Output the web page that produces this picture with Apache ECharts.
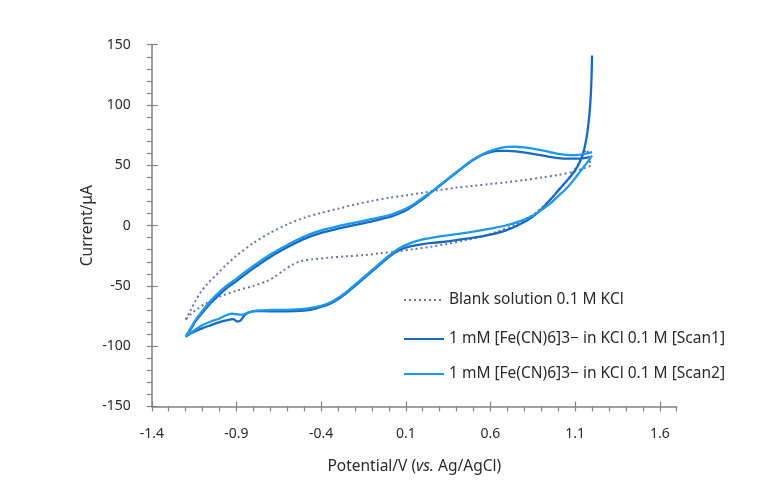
<!DOCTYPE html>
<html>
<head>
<meta charset="utf-8">
<script src="https://cdn.jsdelivr.net/npm/echarts@6/dist/echarts.min.js"></script>
<style>
  html, body { margin: 0; padding: 0; background: #fff; }
  #chart { width: 771px; height: 481px; }
</style>
</head>
<body>
<div id="chart"></div>
<script>
// Cyclic voltammograms: [potential (V vs Ag/AgCl), current (uA)]
const blankForward = [
  [-1.200,-78],[-1.170,-70],[-1.140,-62],[-1.110,-55],[-1.070,-48],[-1.020,-41],
  [-0.960,-32.5],[-0.900,-25],[-0.800,-14.5],[-0.700,-6],[-0.600,1],[-0.500,6.5],
  [-0.400,10.5],[-0.300,14],[-0.200,17.5],[-0.100,20.5],[0.000,23],[0.100,25],
  [0.200,27.3],[0.300,29.5],[0.400,31.5],[0.500,33],[0.600,34.5],[0.700,36],
  [0.800,37.8],[0.900,39.8],[1.000,42],[1.100,45],[1.150,47.5],[1.190,50]
];
const blankReverse = [
  [1.165,63],[1.140,57],[1.115,50],[1.090,44.5],[1.050,37],[1.000,29],[0.950,21],
  [0.900,14.5],[0.840,8],[0.740,0.5],[0.640,-5],[0.550,-9],[0.440,-12.5],[0.350,-15],
  [0.250,-17.5],[0.150,-19.5],[0.050,-21.5],[-0.050,-23],[-0.150,-24.5],[-0.250,-25.5],
  [-0.350,-26.5],[-0.450,-28],[-0.520,-29.5],[-0.570,-32.5],[-0.620,-37],[-0.670,-42],
  [-0.720,-46],[-0.800,-50],[-0.900,-54],[-1.000,-59],[-1.080,-64.5],[-1.130,-69],
  [-1.170,-73.5],[-1.200,-78]
];

const scan1Reverse = [
  [1.200,141],[1.198,128],[1.194,112],[1.188,98],[1.180,86],[1.170,75],[1.155,64],
  [1.135,55],[1.110,48],[1.080,42],[1.050,37],[1.000,29],[0.950,21],[0.900,13.5],
  [0.850,7.5],[0.800,3],[0.700,-3.5],[0.600,-7.5],[0.500,-10],[0.400,-12],[0.300,-13.8],
  [0.200,-15.3],[0.120,-17.5],[0.060,-20.5],[0.000,-26],[-0.050,-32],[-0.100,-38],
  [-0.150,-44],[-0.200,-50],[-0.250,-56],[-0.300,-61],[-0.350,-65],[-0.400,-67.5],
  [-0.450,-69.5],[-0.500,-70.5],[-0.600,-71],[-0.700,-71],[-0.780,-70.8],[-0.820,-71.8],
  [-0.850,-74],[-0.875,-78.5],[-0.895,-79.5],[-0.920,-77.5],[-0.960,-78.5],[-1.000,-80],
  [-1.050,-82.5],[-1.100,-85],[-1.150,-88],[-1.200,-92]
];
const scan1Forward = [
  [-1.170,-86],[-1.140,-79],[-1.100,-72],[-1.050,-64],[-1.000,-57],[-0.950,-51],
  [-0.900,-46],[-0.800,-35.5],[-0.700,-26],[-0.600,-18],[-0.500,-11],[-0.400,-6],
  [-0.300,-2.5],[-0.200,0.5],[-0.100,3.5],[0.000,7],[0.050,9.5],[0.100,12.5],[0.150,17],
  [0.200,22],[0.250,27.5],[0.300,33],[0.350,38.5],[0.400,44],[0.450,49.5],[0.500,54.5],
  [0.550,58.5],[0.600,61],[0.650,62],[0.700,62],[0.750,61.5],[0.850,59.5],[0.950,57],
  [1.050,55.5],[1.120,55.5],[1.180,56.5]
];

const scan2Reverse = [
  [1.200,58],[1.185,55],[1.170,52],[1.150,48.5],[1.120,43],[1.090,37.5],[1.050,31],
  [1.000,24.5],[0.950,18],[0.900,13],[0.840,7.5],[0.800,5],[0.700,0.5],[0.600,-2.5],
  [0.500,-5],[0.400,-7],[0.300,-9],[0.200,-11.5],[0.120,-15],[0.060,-19],[0.000,-25],
  [-0.050,-31],[-0.100,-37],[-0.150,-43],[-0.200,-49],[-0.250,-55],[-0.300,-60],
  [-0.350,-64],[-0.400,-66.5],[-0.450,-68],[-0.500,-69],[-0.600,-69.8],[-0.700,-70],
  [-0.780,-70.5],[-0.830,-72],[-0.870,-74],[-0.900,-73.5],[-0.930,-73],[-0.970,-75],
  [-1.000,-77],[-1.050,-79.5],[-1.100,-82.5],[-1.150,-87],[-1.200,-92]
];
const scan2Forward = [
  [-1.170,-85],[-1.140,-78],[-1.100,-70.5],[-1.050,-62],[-1.000,-55],[-0.950,-49],
  [-0.900,-44],[-0.800,-33.5],[-0.700,-24],[-0.600,-16],[-0.500,-9],[-0.400,-4],
  [-0.300,-0.5],[-0.200,2.5],[-0.100,5.5],[0.000,8.5],[0.050,11],[0.100,14],[0.150,18],
  [0.200,23],[0.250,28],[0.300,33.5],[0.350,39],[0.400,44.5],[0.450,50],[0.500,55],
  [0.550,59],[0.600,62],[0.650,64],[0.700,65.2],[0.750,65.4],[0.800,64.8],[0.850,63.8],
  [0.900,62.5],[0.950,61],[1.000,59.5],[1.050,58.7],[1.100,58.5],[1.150,59.3],[1.200,61]
];

const seriesNames = [
  'Blank solution 0.1 M KCl',
  '1 mM [Fe(CN)6]3\u2212 in KCl 0.1 M [Scan1]',
  '1 mM [Fe(CN)6]3\u2212 in KCl 0.1 M [Scan2]'
];

// Axis ticks
const xTicks = [-1.4, -0.9, -0.4, 0.1, 0.6, 1.1, 1.6];
const yTicks = [-150, -100, -50, 0, 50, 100, 150];
const xMinorTicks = [];
for (let i = -14; i <= 17; i++) xMinorTicks.push(i / 10);
const yMinorTicks = [];
for (let v = -150; v <= 150; v += 10) yMinorTicks.push(v);

const FONT = 'Noto Sans';
const AXIS_COLOR = '#828282';
const TEXT_COLOR = '#2b2b2b';
const TITLE_SIZE = 15.5;

const chart = echarts.init(document.getElementById('chart'), null, { renderer: 'canvas' });

const baseX = { type: 'value', min: -1.4, max: 1.7, gridIndex: 0, splitLine: { show: false } };
const baseY = { type: 'value', min: -150, max: 150, gridIndex: 0, splitLine: { show: false } };

// One legend per entry so each row sits at its own height; line sample only, no marker
function legendAt(top, name) {
  return {
    data: [name], left: 398, top: top, orient: 'vertical',
    itemWidth: 40, itemHeight: 14, selectedMode: false,
    itemStyle: { opacity: 0 },
    textStyle: { fontFamily: FONT, fontSize: TITLE_SIZE, color: TEXT_COLOR }
  };
}

chart.setOption({
  animation: false,
  backgroundColor: '#ffffff',
  grid: { left: 151.8, top: 44.7, right: 94.3, bottom: 74.5, containLabel: false },
  legend: [
    legendAt(287, seriesNames[0]),
    legendAt(326, seriesNames[1]),
    legendAt(361, seriesNames[2])
  ],
  xAxis: [
    Object.assign({}, baseX, {
      position: 'bottom',
      name: 'Potential/V ({i|vs.} Ag/AgCl)',
      nameLocation: 'middle',
      nameGap: 52,
      nameMoveOverlap: false,
      nameTextStyle: {
        fontFamily: FONT, fontSize: TITLE_SIZE, color: TEXT_COLOR,
        rich: { i: { fontFamily: FONT, fontSize: TITLE_SIZE, fontStyle: 'italic', color: TEXT_COLOR } }
      },
      axisLine: { show: true, onZero: false, lineStyle: { color: AXIS_COLOR, width: 1.5 } },
      axisTick: { show: true, inside: false, length: 5, customValues: xMinorTicks,
                  lineStyle: { color: AXIS_COLOR, width: 1.2 } },
      axisLabel: { show: true, margin: 21, customValues: xTicks,
                   fontFamily: FONT, fontSize: 14, color: TEXT_COLOR,
                   formatter: v => v.toFixed(1) }
    }),
    Object.assign({}, baseX, {
      position: 'bottom',
      axisLine: { show: false, onZero: false },
      axisTick: { show: true, inside: true, length: 5, customValues: xTicks,
                  lineStyle: { color: AXIS_COLOR, width: 1.2 } },
      axisLabel: { show: false }
    })
  ],
  yAxis: [
    Object.assign({}, baseY, {
      position: 'left',
      name: 'Current/\u03bcA',
      nameLocation: 'middle',
      nameGap: 56,
      nameMoveOverlap: false,
      nameTextStyle: { fontFamily: FONT, fontSize: TITLE_SIZE, color: TEXT_COLOR },
      axisLine: { show: true, onZero: false, lineStyle: { color: AXIS_COLOR, width: 1.5 } },
      axisTick: { show: true, inside: false, length: 5, customValues: yMinorTicks,
                  lineStyle: { color: AXIS_COLOR, width: 1.2 } },
      axisLabel: { show: true, margin: 21, customValues: yTicks,
                   fontFamily: FONT, fontSize: 14, color: TEXT_COLOR }
    }),
    Object.assign({}, baseY, {
      position: 'left',
      axisLine: { show: false, onZero: false },
      axisTick: { show: true, inside: true, length: 6, customValues: yTicks,
                  lineStyle: { color: AXIS_COLOR, width: 1.2 } },
      axisLabel: { show: false }
    })
  ],
  series: [
    {
      name: seriesNames[0], type: 'line', xAxisIndex: 0, yAxisIndex: 0,
      data: blankForward.concat(blankReverse),
      showSymbol: false, symbol: 'none', smooth: 0.3,
      color: '#6a76a8',
      lineStyle: { width: 2, type: [2, 3], color: '#6a76a8' }
    },
    {
      name: seriesNames[1], type: 'line', xAxisIndex: 0, yAxisIndex: 0,
      data: scan1Reverse.concat(scan1Forward),
      showSymbol: false, symbol: 'none', smooth: 0.3,
      color: '#166ac4',
      lineStyle: { width: 2.3, color: '#166ac4' }
    },
    {
      name: seriesNames[2], type: 'line', xAxisIndex: 0, yAxisIndex: 0,
      data: scan2Reverse.concat(scan2Forward),
      showSymbol: false, symbol: 'none', smooth: 0.3,
      color: '#1e98ee',
      lineStyle: { width: 2.3, color: '#1e98ee' }
    }
  ]
});
</script>
</body>
</html>
